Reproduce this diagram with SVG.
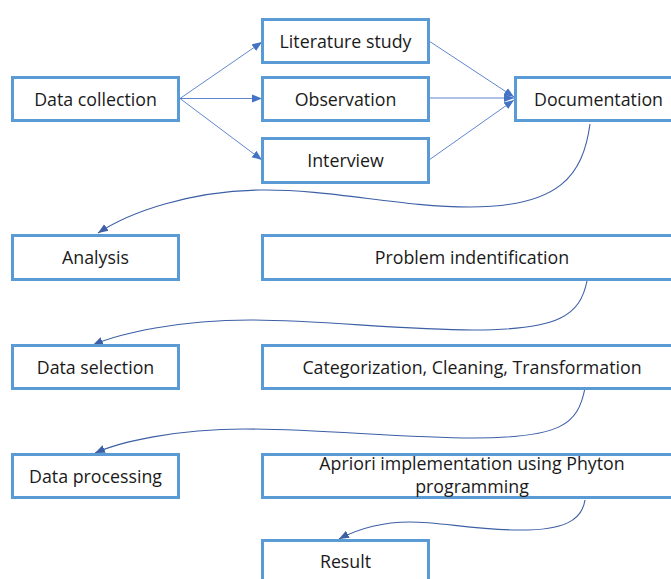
<svg xmlns="http://www.w3.org/2000/svg" width="671" height="579" viewBox="0 0 671 579">
  <style>
    .box { fill: #ffffff; stroke: #5B9BD5; stroke-width: 3; }
    .lbl { font-family: "Open Sans", "Noto Sans", sans-serif; font-size: 17.8px; fill: #1a1a1a; text-anchor: middle; }
    .straight { fill: none; stroke: #4472C4; stroke-width: 1; stroke-opacity: 0.85; }
    .curve { fill: none; stroke: #3C5FA6; stroke-width: 1.1; }
  </style>
  <defs>
    <marker id="arrowLight" markerUnits="userSpaceOnUse" markerWidth="10" markerHeight="10" viewBox="0 0 10 10" refX="10" refY="5" orient="auto">
      <path d="M0,1 L10,5 L0,9 Z" fill="#4472C4"/>
    </marker>
    <marker id="arrowDark" markerUnits="userSpaceOnUse" markerWidth="10" markerHeight="10" viewBox="0 0 10 10" refX="10" refY="5" orient="auto">
      <path d="M0,1 L10,5 L0,9 Z" fill="#3C5FA6"/>
    </marker>
  </defs>

  <!-- connectors -->
  <g id="connectors">
    <line class="straight" x1="180" y1="98.5" x2="262" y2="42" marker-end="url(#arrowLight)"/>
    <line class="straight" x1="180" y1="98.5" x2="262" y2="98.5" marker-end="url(#arrowLight)"/>
    <line class="straight" x1="180" y1="98.5" x2="262" y2="160" marker-end="url(#arrowLight)"/>
    <line class="straight" x1="429" y1="41" x2="514" y2="97" marker-end="url(#arrowLight)"/>
    <line class="straight" x1="429" y1="98" x2="514" y2="98" marker-end="url(#arrowLight)"/>
    <line class="straight" x1="429" y1="160" x2="514" y2="100" marker-end="url(#arrowLight)"/>

    <path class="curve" d="M590,124 C583,175 560,207 470,207 C400,207 330,189 260,190 C190,191 130,212 98,233" marker-end="url(#arrowDark)"/>
    <path class="curve" d="M587,281 C580,315 560,330 473,330 C400,330 320,320 250,320 C180,320 120,333 93,345" marker-end="url(#arrowDark)"/>
    <path class="curve" d="M585,388 C578,425 560,438 473,438 C400,438 320,429 245,429 C175,429 120,442 95,453" marker-end="url(#arrowDark)"/>
    <path class="curve" d="M585,500 C582,520 565,531 515,530 C470,529 440,522 410,522 C380,522 356,530 339,539" marker-end="url(#arrowDark)"/>
  </g>

  <!-- nodes -->
  <g id="data-collection">
    <rect class="box" x="12.5" y="77.5" width="166" height="43"/>
    <text class="lbl" x="95.5" y="105.5">Data collection</text>
  </g>
  <g id="literature-study">
    <rect class="box" x="262.5" y="19.5" width="166" height="43"/>
    <text class="lbl" x="345.5" y="47.5">Literature study</text>
  </g>
  <g id="observation">
    <rect class="box" x="262.5" y="77.5" width="166" height="43"/>
    <text class="lbl" x="345.5" y="105.5">Observation</text>
  </g>
  <g id="interview">
    <rect class="box" x="262.5" y="138.5" width="166" height="44"/>
    <text class="lbl" x="345.5" y="167">Interview</text>
  </g>
  <g id="documentation">
    <rect class="box" x="515.5" y="77.5" width="166" height="43"/>
    <text class="lbl" x="598.5" y="105.5">Documentation</text>
  </g>
  <g id="analysis">
    <rect class="box" x="12.5" y="235.5" width="166" height="44"/>
    <text class="lbl" x="95.5" y="264">Analysis</text>
  </g>
  <g id="problem-identification">
    <rect class="box" x="262.5" y="235.5" width="419" height="44"/>
    <text class="lbl" x="472" y="264">Problem indentification</text>
  </g>
  <g id="data-selection">
    <rect class="box" x="12.5" y="345.5" width="166" height="43"/>
    <text class="lbl" x="95.5" y="373.5">Data selection</text>
  </g>
  <g id="categorization">
    <rect class="box" x="262.5" y="345.5" width="419" height="43"/>
    <text class="lbl" x="472" y="373.5">Categorization, Cleaning, Transformation</text>
  </g>
  <g id="data-processing">
    <rect class="box" x="12.5" y="454.5" width="166" height="43"/>
    <text class="lbl" x="95.5" y="482.5">Data processing</text>
  </g>
  <g id="apriori">
    <rect class="box" x="262.5" y="454.5" width="419" height="43"/>
    <text class="lbl" x="472" y="470">Apriori implementation using Phyton</text>
    <text class="lbl" x="472" y="493">programming</text>
  </g>
  <g id="result">
    <rect class="box" x="262.5" y="540.5" width="166" height="44"/>
    <text class="lbl" x="345.5" y="568">Result</text>
  </g>
</svg>
